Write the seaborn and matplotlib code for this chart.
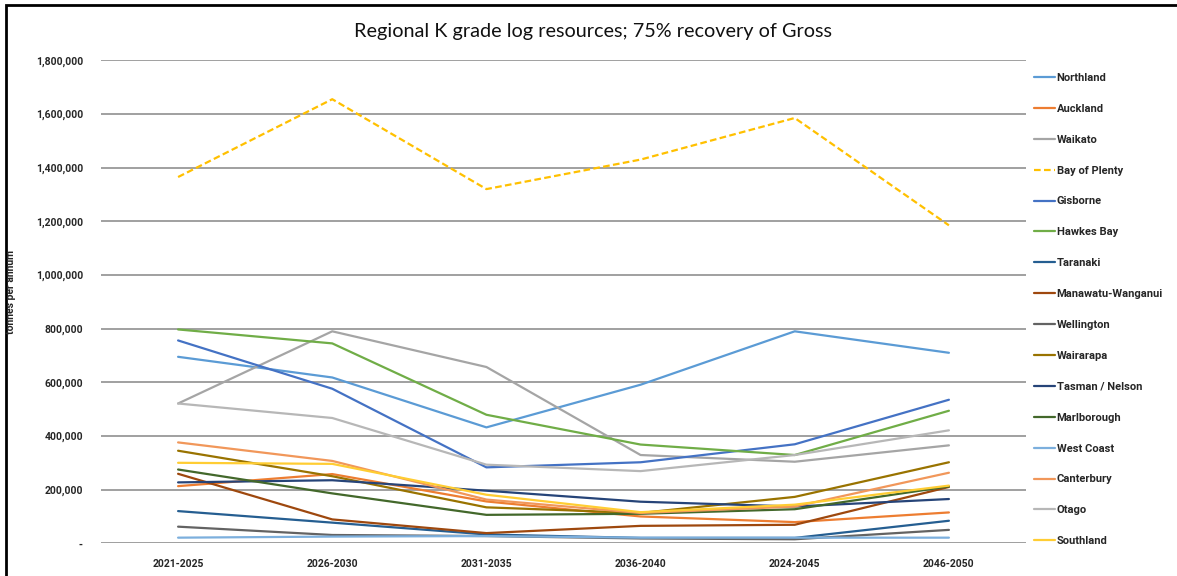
import numpy as np
import pandas as pd
import matplotlib
matplotlib.use("Agg")
import matplotlib.pyplot as plt
import matplotlib.ticker as mticker
from matplotlib.patches import Rectangle
import seaborn as sns

periods = ["2021-2025", "2026-2030", "2031-2035", "2036-2040", "2024-2045", "2046-2050"]

regions = ["Northland", "Auckland", "Waikato", "Bay of Plenty", "Gisborne", "Hawkes Bay",
           "Taranaki", "Manawatu-Wanganui", "Wellington", "Wairarapa", "Tasman / Nelson",
           "Marlborough", "West Coast", "Canterbury", "Otago", "Southland"]

# tonnes per annum
northland = [695000, 618000, 432000, 591000, 790000, 710000]
auckland = [213000, 258000, 156000, 100000, 79000, 115000]
waikato = [521000, 790000, 657000, 329000, 304000, 365000]
bay_of_plenty = [1365000, 1655000, 1320000, 1430000, 1585000, 1185000]
gisborne = [756000, 576000, 283000, 302000, 369000, 535000]
hawkes_bay = [797000, 745000, 479000, 368000, 329000, 494000]
taranaki = [120000, 77000, 33000, 20000, 20000, 84000]
manawatu = [259000, 89000, 38000, 65000, 69000, 210000]
wellington = [62000, 31000, 27000, 18000, 15000, 50000]
wairarapa = [345000, 250000, 134000, 113000, 173000, 302000]
tasman = [227000, 235000, 196000, 155000, 137000, 165000]
marlborough = [275000, 186000, 106000, 110000, 127000, 212000]
west_coast = [21000, 25000, 27000, 21000, 21000, 21000]
canterbury = [376000, 307000, 163000, 113000, 137000, 263000]
otago = [521000, 467000, 293000, 269000, 329000, 421000]
southland = [300000, 296000, 181000, 116000, 144000, 215000]

colors = ["#5B9BD5", "#ED7D31", "#A5A5A5", "#FFC000", "#4472C4", "#70AD47",
          "#255E91", "#9E480E", "#636363", "#997300", "#264478", "#43682B",
          "#7CAFDD", "#F1975A", "#B7B7B7", "#FFCD33"]

series = [northland, auckland, waikato, bay_of_plenty, gisborne, hawkes_bay, taranaki,
          manawatu, wellington, wairarapa, tasman, marlborough, west_coast, canterbury,
          otago, southland]

rows = []
for name, vals in zip(regions, series):
    for p, v in zip(periods, vals):
        rows.append({"period": p, "region": name, "tonnes": v})
df = pd.DataFrame(rows)

sns.set_style("white")
plt.rcParams['font.family'] = ['Lato', 'DejaVu Sans']
bold_family = ['Roboto', 'DejaVu Sans']

fig = plt.figure(figsize=(11.77, 5.76), dpi=100)
ax = fig.add_axes([101 / 1177, 1 - 543.3 / 576, 925 / 1177, (543.3 - 60.3) / 576])

palette = dict(zip(regions, colors))
dashes = {r: "" for r in regions}
dashes["Bay of Plenty"] = (3, 1.5)

sns.lineplot(data=df, x="period", y="tonnes", hue="region", style="region",
             hue_order=regions, style_order=regions, palette=palette, dashes=dashes,
             markers=False, linewidth=1.6, sort=False, ax=ax)

ax.set_xlim(-0.5, 5.5)
ax.set_ylim(0, 1800000)
ax.yaxis.set_major_locator(mticker.MultipleLocator(200000))
ax.yaxis.set_major_formatter(mticker.FuncFormatter(lambda v, p: "-" if v == 0 else f"{int(v):,}"))
ax.grid(axis="y", color="#A0A0A0", linewidth=1.4)
ax.set_axisbelow(True)
for s in ax.spines.values():
    s.set_visible(False)
ax.axhline(0, color="#D9D9D9", linewidth=1.2, zorder=0)
ax.tick_params(axis="y", length=0, pad=13)
ax.tick_params(axis="x", length=0, pad=11)
for lbl in ax.get_xticklabels() + ax.get_yticklabels():
    lbl.set_fontweight("bold")
    lbl.set_family(bold_family)
    lbl.set_fontsize(7.5)
ax.set_xlabel("")
ax.set_ylabel("")
fig.text(11 / 1177, 1 - 292 / 576, "tonnes per annum", rotation=90, fontsize=7.5,
         fontweight="bold", family=bold_family, ha="center", va="center")

fig.text(593 / 1177, 1 - 31 / 576, "Regional K grade log resources; 75% recovery of Gross",
         fontsize=14.3, ha="center", va="center", color="#111111")

handles, labels = ax.get_legend_handles_labels()
ax.legend(handles, labels, loc="upper left", bbox_to_anchor=(1.0, 0.99), frameon=False,
          prop={"weight": "bold", "size": 8, "family": bold_family}, handlelength=1.9,
          handletextpad=0.15, labelspacing=1.88, borderaxespad=0.3)

fig.patches.append(Rectangle((6 / 1177, -0.1), 1.2, 1.1 - 5 / 576, transform=fig.transFigure,
                             fill=False, edgecolor="black", linewidth=2))

fig.savefig("out.png", dpi=100)
